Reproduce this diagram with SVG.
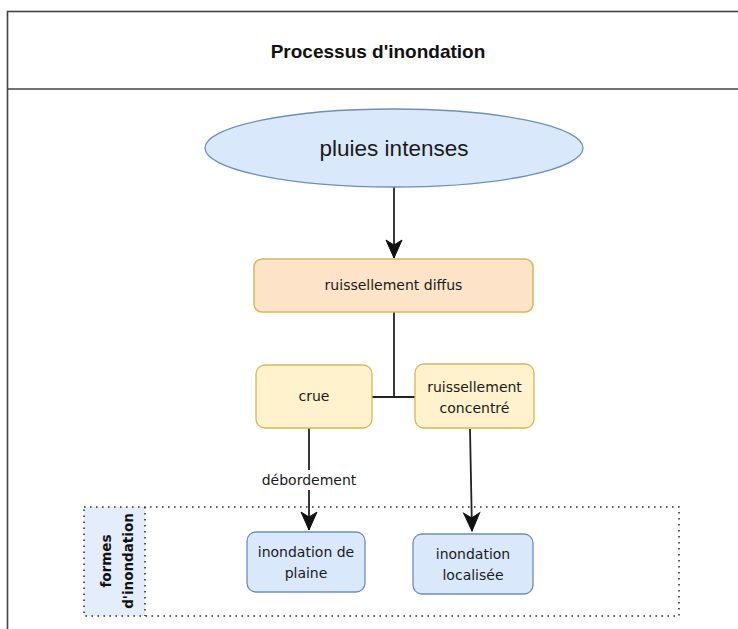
<svg xmlns="http://www.w3.org/2000/svg" width="738" height="629" viewBox="0 0 738 629">
<defs>
<style>
.t{font-family:"DejaVu Sans",Verdana,sans-serif;font-size:14px;fill:#1a1a1a;text-anchor:middle}
.blue{fill:#dae8fc;stroke:#6c8ebf;stroke-width:1.3}
.peach{fill:#fde4c9;stroke:#d6b656;stroke-width:1.5}
.yel{fill:#fff2cc;stroke:#d6b656;stroke-width:1.3}
.edge{fill:none;stroke:#222;stroke-width:1.8}
.dot{fill:none;stroke:#333;stroke-width:1.6;stroke-dasharray:1.6 4.4}
</style>
<marker id="arr" viewBox="-20 -10 22 20" refX="0" refY="0" markerWidth="22" markerHeight="20" markerUnits="userSpaceOnUse" orient="auto">
<path d="M-18,-8 L0,0 L-18,8 L-13,0 Z" fill="#111" stroke="#111" stroke-width="1"/>
</marker>
</defs>
<rect width="738" height="629" fill="#fff"/>
<g id="frame">
<rect x="7.5" y="11.5" width="760" height="700" fill="none" stroke="#444" stroke-width="1.6"/>
<line x1="7.5" y1="89" x2="738" y2="89" stroke="#444" stroke-width="1.6"/>
<text x="378" y="58" font-family="'Liberation Sans',Arial,sans-serif" font-size="19" font-weight="bold" fill="#111" text-anchor="middle">Processus d'inondation</text>
</g>
<g id="formes">
<rect x="84" y="507" width="61" height="109" fill="#e3edfb"/>
<rect x="84" y="507" width="595" height="109" class="dot"/>
<line x1="145" y1="507" x2="145" y2="616" class="dot"/>
<text transform="translate(111,561) rotate(-90)" font-family="'DejaVu Sans',Verdana,sans-serif" font-size="13.5" font-weight="bold" fill="#111" text-anchor="middle"><tspan x="0" y="0">formes</tspan><tspan x="0" y="22">d'inondation</tspan></text>
</g>
<g id="connectors">
<line x1="394" y1="187" x2="394" y2="258" class="edge" marker-end="url(#arr)"/>
<polyline points="394,312 394,397" class="edge"/>
<line x1="372" y1="397" x2="415" y2="397" class="edge"/>
<line x1="309" y1="428" x2="309" y2="530" class="edge" marker-end="url(#arr)"/>
<rect x="260" y="470" width="98" height="20" fill="#fff"/>
<text x="309" y="485" class="t">débordement</text>
<line x1="470" y1="429" x2="472" y2="531" class="edge" marker-end="url(#arr)"/>
</g>
<g id="pluies">
<ellipse cx="394" cy="148" rx="189" ry="39" class="blue"/>
<text x="394" y="156" font-family="'Liberation Sans',Arial,sans-serif" font-size="22.5" fill="#1a1a1a" text-anchor="middle">pluies intenses</text>
</g>
<g id="diffus">
<rect x="254" y="259" width="279" height="53" rx="8" class="peach"/>
<text x="393.5" y="290" class="t">ruissellement diffus</text>
</g>
<g id="crue">
<rect x="256" y="365" width="116" height="63" rx="9" class="yel"/>
<text x="314" y="401" class="t">crue</text>
</g>
<g id="concentre">
<rect x="415" y="364" width="119" height="64" rx="9" class="yel"/>
<text x="474.5" y="392" class="t">ruissellement</text>
<text x="474.5" y="413" class="t">concentré</text>
</g>
<g id="plaine">
<rect x="247" y="532" width="118" height="60" rx="9" class="blue"/>
<text x="306" y="557" class="t">inondation de</text>
<text x="306" y="578" class="t">plaine</text>
</g>
<g id="localisee">
<rect x="413" y="534" width="120" height="60" rx="9" class="blue"/>
<text x="473" y="559" class="t">inondation</text>
<text x="473" y="580" class="t">localisée</text>
</g>
</svg>
